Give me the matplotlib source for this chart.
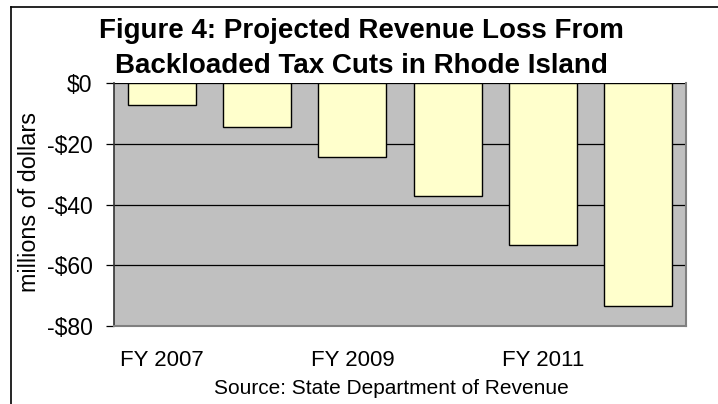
import numpy as np
import matplotlib.pyplot as plt
from matplotlib.lines import Line2D

plt.rcParams['font.family'] = ['Liberation Sans', 'DejaVu Sans']

# Data (millions of dollars)
years = ["FY 2007", "FY 2008", "FY 2009", "FY 2010", "FY 2011", "FY 2012"]
revenue_loss = [-7.2, -14.4, -24.3, -37.1, -53.3, -73.4]
yticks = [0, -20, -40, -60, -80]
ytick_labels = ["$0", "-$20", "-$40", "-$60", "-$80"]

fig = plt.figure(figsize=(7.18, 4.04), dpi=100)
ax = fig.add_axes([114 / 718, 1 - 326 / 404, 572 / 718, 243 / 404])
ax.set_facecolor("#C0C0C0")

x = np.arange(len(years))
ax.bar(x, revenue_loss, width=0.71, color="#FFFFCC", edgecolor="black",
       linewidth=1.0, zorder=3)

ax.set_xlim(-0.5, len(years) - 0.5)
ax.set_ylim(-80, 0)
ax.set_yticks(yticks)
ax.set_yticklabels(ytick_labels, fontsize=16.5)
ax.yaxis.grid(True, color="black", linewidth=0.9, zorder=1)
ax.set_axisbelow(True)

# only every other category is labelled
ax.set_xticks(x[::2])
ax.set_xticklabels(years[::2], fontsize=16)
ax.tick_params(axis="x", length=0, pad=17)
ax.tick_params(axis="y", length=6, width=0.9, pad=9.5, direction="out")

for side in ["right", "bottom"]:
    ax.spines[side].set_color("#808080")
    ax.spines[side].set_linewidth(1.5)
ax.spines["top"].set_visible(False)
ax.spines["left"].set_color("#333333")
ax.spines["left"].set_linewidth(1.2)

fig.text(30 / 718, 1 - 202 / 404, "millions of dollars", fontsize=16.8,
         rotation=90, ha="center", va="center")

fig.text(361 / 718, 1 - 31 / 404, "Figure 4: Projected Revenue Loss From",
         fontsize=20, fontweight="bold", ha="center", va="center")
fig.text(361 / 718, 1 - 66 / 404, "Backloaded Tax Cuts in Rhode Island",
         fontsize=20, fontweight="bold", ha="center", va="center")
fig.text(391 / 718, 1 - 389 / 404, "Source: State Department of Revenue",
         fontsize=15, ha="center", va="center")

# frame of the original figure box
fig.add_artist(Line2D([11 / 718, 1], [1 - 7 / 404, 1 - 7 / 404],
                      transform=fig.transFigure, color="black", linewidth=1.2))
fig.add_artist(Line2D([11 / 718, 11 / 718], [0, 1 - 7 / 404],
                      transform=fig.transFigure, color="black", linewidth=1.2))

fig.savefig("out.png", dpi=100)
